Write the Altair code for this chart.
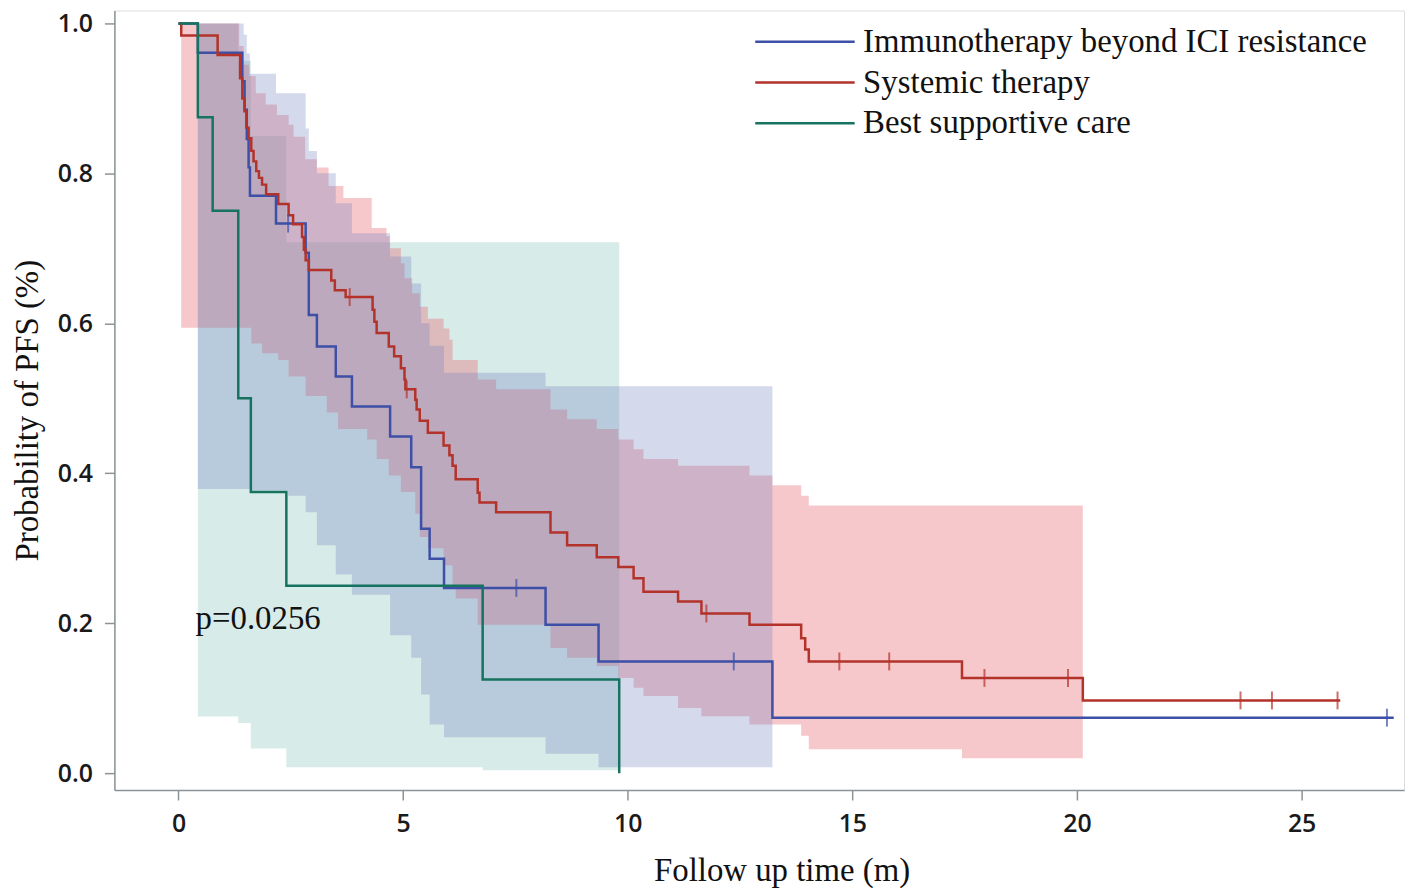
import altair as alt
import pandas as pd

# ---------------- data ----------------
groups = ["Immunotherapy beyond ICI resistance", "Systemic therapy", "Best supportive care"]
line_colors = ["#3D4FA6", "#B3322A", "#16735F"]
band_colors = ["#7080C0", "#E8626A", "#5FAFA5"]
band_opacity = [0.30, 0.35, 0.25]

# Kaplan-Meier curves (time in months, survival probability after each step)
blue_time = [0, 0.43, 1.42, 1.47, 1.52, 1.56, 1.59, 2.17, 2.83, 2.90, 3.08, 3.50, 3.86,
             4.71, 5.18, 5.40, 5.59, 5.91, 8.17, 9.35, 13.22, 27.05]
blue_surv = [1.0, 0.961, 0.923, 0.885, 0.846, 0.808, 0.770, 0.733, 0.694, 0.611, 0.569, 0.529, 0.489,
             0.449, 0.408, 0.326, 0.286, 0.247, 0.198, 0.149, 0.074, 0.074]
blue_censor = [2.44, 7.52, 12.36, 26.90]

red_time = [0, 0.06, 0.87, 1.37, 1.42, 1.47, 1.51, 1.56, 1.62, 1.67, 1.73, 1.79, 1.86, 1.95,
            2.22, 2.45, 2.55, 2.75, 2.79, 2.83, 2.90, 3.40, 3.48, 3.72, 4.32, 4.36, 4.41, 4.68,
            4.80, 4.95, 5.03, 5.05, 5.27, 5.30, 5.37, 5.55, 5.90, 6.03, 6.10, 6.17, 6.66, 6.70,
            7.07, 8.28, 8.65, 9.31, 9.79, 10.13, 10.35, 11.12, 11.64, 12.71, 13.86, 13.95, 14.03,
            17.44, 20.13, 25.86]
red_surv = [1.0, 0.984, 0.958, 0.927, 0.900, 0.883, 0.861, 0.847, 0.830, 0.816, 0.803, 0.794, 0.785, 0.772,
            0.759, 0.744, 0.732, 0.715, 0.698, 0.684, 0.671, 0.657, 0.644, 0.635, 0.618, 0.602, 0.587, 0.569,
            0.556, 0.540, 0.525, 0.512, 0.498, 0.485, 0.470, 0.454, 0.437, 0.424, 0.410, 0.392, 0.374, 0.361,
            0.348, 0.321, 0.304, 0.288, 0.275, 0.260, 0.242, 0.229, 0.213, 0.198, 0.180, 0.165, 0.149,
            0.127, 0.097, 0.097]
red_censor = [3.81, 5.08, 11.75, 14.71, 15.82, 17.94, 19.80, 23.64, 24.34, 25.80]

green_time = [0, 0.43, 0.76, 1.33, 1.61, 2.40, 6.77, 9.81]
green_surv = [1.0, 0.875, 0.75, 0.5, 0.375, 0.25, 0.125, 0.0]

# Confidence bands (upper and lower step edges) and band end times
blue_hi_t = [0.43, 1.45, 1.52, 1.59, 2.17, 2.83, 2.90, 3.08, 3.50, 3.86, 4.71, 5.18, 5.40, 5.59, 5.91, 8.17]
blue_hi_v = [1.0, 0.985, 0.96, 0.933, 0.907, 0.86, 0.83, 0.80, 0.76, 0.72, 0.689, 0.653, 0.60, 0.57, 0.534, 0.516]
blue_lo_t = [0.43, 1.59, 2.44, 2.83, 3.08, 3.50, 3.86, 4.71, 5.18, 5.40, 5.59, 5.91, 8.17, 9.35]
blue_lo_v = [0.379, 0.377, 0.370, 0.348, 0.304, 0.265, 0.238, 0.184, 0.154, 0.105, 0.065, 0.048, 0.026, 0.008]
blue_band_end = 13.22

red_hi_t = [0.06, 1.35, 1.45, 1.57, 1.72, 1.94, 2.19, 2.45, 2.56, 2.82, 3.08, 3.34, 3.67, 4.30, 4.63,
            4.70, 4.95, 5.03, 5.20, 5.37, 5.55, 5.90, 6.03, 6.10, 6.66, 7.07, 8.28, 8.65, 9.31, 9.79,
            10.13, 10.35, 11.12, 12.71, 13.22, 13.86, 14.03]
red_hi_v = [1.0, 0.97, 0.945, 0.93, 0.907, 0.892, 0.878, 0.865, 0.849, 0.819, 0.808, 0.783, 0.767, 0.727, 0.716,
            0.70, 0.68, 0.66, 0.64, 0.622, 0.606, 0.593, 0.578, 0.551, 0.525, 0.512, 0.485, 0.472, 0.459, 0.445,
            0.432, 0.419, 0.41, 0.397, 0.384, 0.37, 0.357]
red_lo_t = [0.06, 1.62, 1.86, 2.22, 2.45, 2.83, 3.30, 3.55, 4.20, 4.41, 4.68, 4.95, 5.27, 5.37, 5.55, 5.90,
            6.10, 6.17, 6.66, 8.28, 8.65, 9.31, 9.79, 10.13, 10.35, 11.12, 11.64, 12.71, 13.86, 14.03, 17.44]
red_lo_v = [0.594, 0.573, 0.560, 0.551, 0.529, 0.503, 0.481, 0.459, 0.445, 0.419, 0.397, 0.375, 0.346, 0.315,
            0.300, 0.277, 0.250, 0.233, 0.198, 0.167, 0.154, 0.143, 0.127, 0.114, 0.103, 0.087, 0.076, 0.065,
            0.050, 0.032, 0.020]
red_band_end = 20.13

green_hi_t = [0.43, 1.33, 1.61, 2.40]
green_hi_v = [1.0, 0.95, 0.85, 0.708]
green_lo_t = [0.43, 1.33, 1.61, 2.40, 6.77]
green_lo_v = [0.0755, 0.067, 0.033, 0.008, 0.004]
green_band_end = 9.81

x_ticks = [0, 5, 10, 15, 20, 25]
y_ticks = [0.0, 0.2, 0.4, 0.6, 0.8, 1.0]
p_label = ["p=0.0256"]
p_pos_t = [0.38]
p_pos_s = [0.205]


# ---------------- helpers ----------------
def step_at(ts, vs, t):
    v = vs[0]
    for ti, vi in zip(ts, vs):
        if ti <= t + 1e-9:
            v = vi
        else:
            break
    return v


def band_rows(hi_t, hi_v, lo_t, lo_v, end):
    times = sorted(set(hi_t) | set(lo_t))
    rows = [{"t": t, "lo": step_at(lo_t, lo_v, t), "hi": step_at(hi_t, hi_v, t)} for t in times]
    last = dict(rows[-1])
    last["t"] = end
    rows.append(last)
    return pd.DataFrame(rows)


def curve_rows(name, ts, vs):
    return pd.DataFrame({"group": name, "t": ts, "s": vs})


def censor_rows(ts, curve_t, curve_s):
    return pd.DataFrame({"t": ts, "s": [step_at(curve_t, curve_s, t) for t in ts]})


blue_band = band_rows(blue_hi_t, blue_hi_v, blue_lo_t, blue_lo_v, blue_band_end)
red_band = band_rows(red_hi_t, red_hi_v, red_lo_t, red_lo_v, red_band_end)
green_band = band_rows(green_hi_t, green_hi_v, green_lo_t, green_lo_v, green_band_end)

curves = pd.concat([
    curve_rows(groups[0], blue_time, blue_surv),
    curve_rows(groups[1], red_time, red_surv),
    curve_rows(groups[2], green_time, green_surv),
])
blue_cens = censor_rows(blue_censor, blue_time, blue_surv)
red_cens = censor_rows(red_censor, red_time, red_surv)
ptext = pd.DataFrame({"label": p_label, "t": p_pos_t, "s": p_pos_s})

# ---------------- scales & axes ----------------
# plot area: left edge at page x=115, top at page y=8, bottom at page y=792
x_scale = alt.Scale(domain=[-1.4276, 27.28], nice=False, zero=False)
y_scale = alt.Scale(domain=[-0.02255, 1.01724], nice=False, zero=False)
color_scale = alt.Scale(domain=groups, range=line_colors)

axis_common = dict(
    labelFont="Open Sans", labelFontSize=25, labelFontWeight=600, labelColor="#1a1a1a",
    tickColor="#8C9396", tickWidth=1.5, tickSize=10, domainColor="#8C9396", domainWidth=1.5,
    grid=False, labelPadding=12, titleFont="Liberation Serif", titleFontSize=33,
    titleFontWeight="normal", titleColor="#111111",
)
x_axis = alt.Axis(values=x_ticks, title="Follow up time (m)", titleX=671, titleY=91,
                  titleBaseline="alphabetic", titleAlign="center", **axis_common)
y_axis = alt.Axis(values=y_ticks, format=".1f", title="Probability of PFS (%)", titleAngle=270,
                  titleX=-77, titleY=402, titleBaseline="alphabetic", titleAlign="center",
                  **axis_common)


def band_layer(df, col, op):
    return alt.Chart(df).mark_area(
        interpolate="step-after", strokeWidth=0, color=col, opacity=op
    ).encode(
        x=alt.X("t:Q", scale=x_scale, axis=x_axis),
        y=alt.Y("lo:Q", scale=y_scale, axis=y_axis),
        y2="hi:Q",
    )


lines = alt.Chart(curves).mark_line(interpolate="step-after", strokeWidth=2.5).encode(
    x=alt.X("t:Q", scale=x_scale),
    y=alt.Y("s:Q", scale=y_scale),
    color=alt.Color(
        "group:N", scale=color_scale,
        legend=alt.Legend(
            title=None, orient="none", legendX=718, legendY=15, padding=0,
            symbolType="M-9,0H1", symbolSize=400, symbolStrokeWidth=2.5,
            labelFont="Liberation Serif", labelFontSize=33, labelColor="#111111",
            labelOffset=2, rowPadding=7, labelLimit=800,
        ),
    ),
)


def tick_layer(df, col):
    return alt.Chart(df).mark_tick(orient="vertical", size=18, thickness=2, color=col).encode(
        x=alt.X("t:Q", scale=x_scale),
        y=alt.Y("s:Q", scale=y_scale),
    )


ptxt = alt.Chart(ptext).mark_text(
    font="Liberation Serif", fontSize=33, align="left", baseline="middle", color="#111111"
).encode(
    x=alt.X("t:Q", scale=x_scale),
    y=alt.Y("s:Q", scale=y_scale),
    text="label:N",
)

chart = alt.layer(
    band_layer(green_band, band_colors[2], band_opacity[2]),
    band_layer(red_band, band_colors[1], band_opacity[1]),
    band_layer(blue_band, band_colors[0], band_opacity[0]),
    lines,
    tick_layer(blue_cens, line_colors[0]),
    tick_layer(red_cens, line_colors[1]),
    ptxt,
).properties(
    width=1297, height=784,
    autosize=alt.AutoSizeParams(type="none"),
    padding={"left": 107, "top": 0, "right": 5, "bottom": 98},
).configure_view(
    stroke="#8C9396", strokeWidth=1.5
).configure(background="white")

chart.save("out.html", embed_options={"renderer": "svg", "actions": False})
